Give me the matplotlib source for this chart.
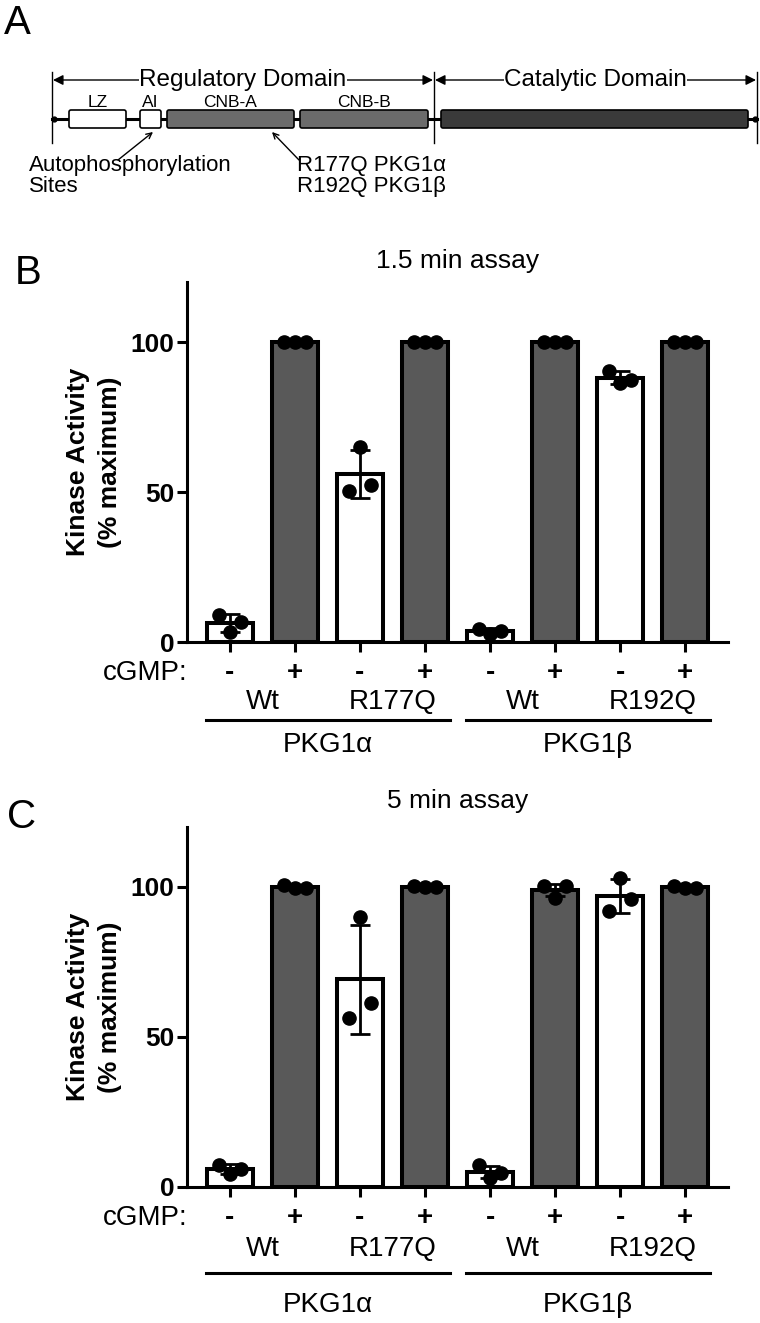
import matplotlib as mpl
mpl.use("Agg")
import matplotlib.pyplot as plt
import numpy as np
from matplotlib.patches import FancyBboxPatch
from matplotlib.transforms import blended_transform_factory

plt.rcParams.update({
    "font.family": ["Liberation Sans", "DejaVu Sans"],
    "axes.linewidth": 2.2,
})

# ---- data -----------------------------------------------------------------
cgmp = ["-", "+", "-", "+", "-", "+", "-", "+"]
constructs = ["Wt", "R177Q", "Wt", "R192Q"]
isoforms = ["PKG1\u03b1", "PKG1\u03b2"]

# three replicates per bar (left, middle, right dot)
pts_15min = [
    [9.0, 3.2, 6.8],
    [100.0, 100.0, 100.0],
    [50.5, 65.0, 52.5],
    [100.0, 100.0, 100.0],
    [4.5, 2.8, 3.8],
    [100.0, 100.0, 100.0],
    [90.5, 86.5, 87.5],
    [100.0, 100.0, 100.0],
]
pts_5min = [
    [7.5, 4.2, 6.0],
    [100.8, 99.8, 99.8],
    [56.3, 90.0, 61.3],
    [100.5, 100.0, 100.0],
    [7.3, 3.0, 4.7],
    [100.2, 96.5, 100.3],
    [92.0, 103.0, 96.0],
    [100.5, 99.7, 99.7],
]

# domain map for panel A (start, end in pixel units along the chain)
domains = [
    ("LZ", 69, 126, "white"),
    ("AI", 140, 161, "white"),
    ("CNB-A", 167, 294, "#6b6b6b"),
    ("CNB-B", 300, 428, "#6b6b6b"),
    ("", 441, 748, "#3a3a3a"),
]

DARK = "#595959"
W, H = 760, 1323

fig = plt.figure(figsize=(W / 100, H / 100), dpi=100)
fig.patch.set_facecolor("white")

# overlay in pixel coordinates for panel A and panel letters
ov = fig.add_axes([0, 0, 1, 1])
ov.set_xlim(0, W)
ov.set_ylim(H, 0)
ov.axis("off")

ov.text(4, 4, "A", fontsize=29, va="top", ha="left")
ov.text(15, 254, "B", fontsize=29, va="top", ha="left")
ov.text(7, 798, "C", fontsize=29, va="top", ha="left")

# Panel A: domain schematic
chain_y, box_h = 119, 18
ov.plot([52, 757], [chain_y, chain_y], color="black", lw=2.2, zorder=1)
ov.plot([54, 755], [chain_y, chain_y], "o", color="black", ms=3.5, zorder=1)
for x in (52, 434, 757):
    ov.plot([x, x], [72, 143], color="black", lw=1.0)
for name, x0, x1, col in domains:
    ov.add_patch(FancyBboxPatch((x0, chain_y - box_h / 2), x1 - x0, box_h,
                                boxstyle="round,pad=0,rounding_size=2",
                                facecolor=col, edgecolor="black", lw=1.2, zorder=2))
    if name:
        ov.text((x0 + x1) / 2, 107, name, fontsize=12.5, ha="center", va="baseline", zorder=5)

for label, x0, x1 in [("Regulatory Domain", 52, 434), ("Catalytic Domain", 434, 757)]:
    ov.annotate("", xy=(x0 + 1, 80), xytext=(x1 - 1, 80),
                arrowprops=dict(arrowstyle="<|-|>", color="black", lw=1.0,
                                mutation_scale=15, shrinkA=0, shrinkB=0))
    ov.text((x0 + x1) / 2, 80, label, fontsize=17.5, ha="center", va="center",
            bbox=dict(boxstyle="square,pad=0.02", fc="white", ec="none"))

ov.annotate("", xy=(153, 132), xytext=(118, 160),
            arrowprops=dict(arrowstyle="->", color="black", lw=1.0, shrinkA=0, shrinkB=0))
ov.annotate("", xy=(272, 132), xytext=(299, 160),
            arrowprops=dict(arrowstyle="->", color="black", lw=1.0, shrinkA=0, shrinkB=0))
ov.text(29, 155, "Autophosphorylation\nSites", fontsize=16, va="top", ha="left", linespacing=1.0)
ov.text(297, 155, "R177Q PKG1\u03b1\nR192Q PKG1\u03b2", fontsize=16, va="top", ha="left", linespacing=1.0)


def bar_panel(ax, pts, title, title_pad, rows):
    x = np.arange(len(pts))
    vals = np.array(pts)
    mean = vals.mean(axis=1)
    sd = vals.std(axis=1, ddof=1)
    faces = ["white" if c == "-" else DARK for c in cgmp]
    ax.bar(x, mean, width=0.7, color=faces, edgecolor="black", lw=2.9, zorder=2)
    ax.errorbar(x, mean, yerr=sd, fmt="none", ecolor="black", elinewidth=2.0,
                capsize=7.5, capthick=2.0, zorder=3)
    offs = np.array([-0.17, 0.0, 0.17])
    for xi, row in zip(x, vals):
        ax.plot(xi + offs, row, "o", color="black", ms=9.5, zorder=4, clip_on=False)

    ax.set_xlim(-0.66, 7.66)
    ax.set_ylim(0, 120)
    ax.set_yticks([0, 50, 100])
    ax.set_xticks(x)
    ax.set_xticklabels([])
    ax.tick_params(axis="both", length=7, width=2.2, direction="out")
    ax.tick_params(axis="y", labelsize=19, pad=2)
    for t in ax.get_yticklabels():
        t.set_fontweight("bold")
    for side in ("top", "right"):
        ax.spines[side].set_visible(False)
    ax.set_ylabel("Kinase Activity\n(% maximum)", fontsize=19, fontweight="bold", linespacing=1.4)
    ax.yaxis.set_label_coords(-0.12, 0.5)
    ax.set_title(title, fontsize=19, pad=title_pad, x=0.5)

    tr = blended_transform_factory(ax.transData, ax.transAxes)
    y_sign, y_con, y_line, y_iso = rows
    ax.text(0, y_sign, "cGMP:", transform=ax.transAxes, fontsize=20, ha="right", va="center")
    for xi, s in zip(x, cgmp):
        ax.text(xi, y_sign, s, transform=tr, fontsize=20, ha="center", va="center", fontweight="bold")
    for k, name in enumerate(constructs):
        ax.text(2 * k + 0.5, y_con, name, transform=tr, fontsize=20, ha="center", va="center")
    for k, iso in enumerate(isoforms):
        ax.plot([4 * k - 0.37, 4 * k + 3.38], [y_line, y_line], transform=tr,
                color="black", lw=2.2, clip_on=False)
        ax.text(4 * k + 1.5, y_iso, iso, transform=tr, fontsize=20, ha="center", va="center")


axB = fig.add_axes([187 / W, (H - 642) / H, 541 / W, 360 / H])
bar_panel(axB, pts_15min, "1.5 min assay", 10, (-0.086, -0.167, -0.217, -0.286))

axC = fig.add_axes([187 / W, (H - 1187) / H, 541 / W, 360 / H])
bar_panel(axC, pts_5min, "5 min assay", 14, (-0.086, -0.172, -0.239, -0.328))

fig.savefig("out.png", dpi=100, facecolor="white")
